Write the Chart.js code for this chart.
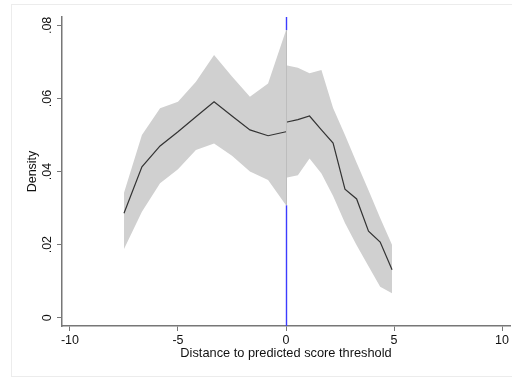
<!DOCTYPE html>
<html>
<head>
<meta charset="utf-8">
<script src="https://cdn.jsdelivr.net/npm/chart.js@4"></script>
<style>
  html, body { margin: 0; padding: 0; background: #fff; }
  #wrap { width: 512px; height: 377px; position: relative; }
</style>
</head>
<body>
<div id="wrap"><canvas id="c" width="512" height="377"></canvas></div>
<script>
// 閾値の左側
const leftX     = [-7.5, -6.67, -5.83, -5, -4.17, -3.33, -2.5, -1.67, -0.83, 0];
const leftMean  = [0.0286, 0.0413, 0.047, 0.0509, 0.055, 0.0591, 0.0552, 0.0514, 0.0498, 0.0509];
const leftUpper = [0.0342, 0.050, 0.0573, 0.0591, 0.0646, 0.0719, 0.066, 0.0605, 0.0641, 0.0787];
const leftLower = [0.0188, 0.029, 0.0368, 0.0406, 0.0459, 0.0477, 0.0443, 0.040, 0.0377, 0.0308];

// 閾値の右側
const rightX     = [0, 0.55, 1.09, 1.64, 2.18, 2.73, 3.27, 3.82, 4.36, 4.91];
const rightMean  = [0.0535, 0.0542, 0.0552, 0.0514, 0.0478, 0.0352, 0.0325, 0.0237, 0.0207, 0.0131];
const rightUpper = [0.0691, 0.0684, 0.0669, 0.0678, 0.0574, 0.050, 0.0424, 0.0349, 0.0273, 0.0199];
const rightLower = [0.0383, 0.039, 0.0436, 0.0395, 0.0333, 0.0259, 0.0198, 0.0141, 0.0085, 0.0067];

const threshold = 0;
const xTicks = [-10, -5, 0, 5, 10];
const yTicks = [0, 0.02, 0.04, 0.06, 0.08];
const xTitle = "Distance to predicted score threshold";
const yTitle = "Density";

const pts = (xs, ys) => xs.map((x, i) => ({ x, y: ys[i] }));
const FONT = "'Liberation Sans', Arial, sans-serif";
const BAND = "#d0d0d0";

function band(xs, ys, fill) {
  return { data: pts(xs, ys), borderWidth: 0, pointRadius: 0, tension: 0,
           backgroundColor: BAND, fill, order: 2 };
}
function meanLine(xs, ys) {
  return { data: pts(xs, ys), borderColor: "#333", borderWidth: 1.2, pointRadius: 0,
           tension: 0, fill: false, order: 0 };
}

const yLabel = v => v === 0 ? "0" : String(v).replace(/^0/, "");

// 外枠・閾値線・縦軸ラベル
const decor = {
  id: "decor",
  beforeDraw(chart) {
    const ctx = chart.ctx;
    ctx.save();
    ctx.strokeStyle = "#ececec";
    ctx.lineWidth = 1;
    ctx.strokeRect(11.5, 4.5, 520, 372);
    ctx.restore();
  },
  afterDatasetsDraw(chart) {
    // 閾値線は帯の外側だけ見える（帯の下に隠れる）
    const { ctx, scales: { x, y } } = chart;
    const px = Math.round(x.getPixelForValue(threshold)) + 0.5;
    const bandTop = y.getPixelForValue(Math.max(leftUpper[leftUpper.length - 1], rightUpper[0]));
    const bandBot = y.getPixelForValue(Math.min(leftLower[leftLower.length - 1], rightLower[0]));
    ctx.save();
    ctx.lineWidth = 1.4;
    ctx.strokeStyle = "#3c3cff";
    ctx.beginPath();
    ctx.moveTo(px, y.top);
    ctx.lineTo(px, bandTop);
    ctx.moveTo(px, bandBot);
    ctx.lineTo(px, y.bottom);
    ctx.stroke();
    // 帯の継ぎ目
    ctx.lineWidth = 1;
    ctx.strokeStyle = "#bdbdbd";
    ctx.beginPath();
    ctx.moveTo(px, bandTop);
    ctx.lineTo(px, bandBot);
    ctx.stroke();
    ctx.restore();
  },
  afterDraw(chart) {
    const { ctx, scales: { y } } = chart;
    ctx.save();
    ctx.fillStyle = "#111";
    ctx.font = "12.5px " + FONT;
    ctx.textAlign = "center";
    ctx.textBaseline = "middle";
    yTicks.forEach(v => {
      ctx.save();
      ctx.translate(48, y.getPixelForValue(v));
      ctx.rotate(-Math.PI / 2);
      ctx.fillText(yLabel(v), 0, 0);
      ctx.restore();
    });
    ctx.translate(33, (y.top + y.bottom) / 2);
    ctx.rotate(-Math.PI / 2);
    ctx.fillText(yTitle, 0, 0);
    ctx.restore();
  }
};

new Chart(document.getElementById("c"), {
  type: "line",
  data: {
    datasets: [
      meanLine(leftX, leftMean),
      meanLine(rightX, rightMean),
      band(leftX, leftUpper, "+1"),
      band(leftX, leftLower, false),
      band(rightX, rightUpper, "+1"),
      band(rightX, rightLower, false)
    ]
  },
  options: {
    responsive: false,
    animation: false,
    layout: { padding: { top: 17, right: 2, left: 0, bottom: 16 } },
    plugins: { legend: { display: false }, tooltip: { enabled: false } },
    scales: {
      x: {
        type: "linear", min: -10.37, max: 10.37,
        afterBuildTicks: s => { s.ticks = xTicks.map(v => ({ value: v })); },
        ticks: { color: "#111", font: { family: FONT, size: 12.5 }, padding: 2, maxRotation: 0 },
        grid: { drawOnChartArea: false, drawTicks: true, tickLength: 5, color: "#777", lineWidth: 1 },
        border: { display: true, color: "#777", width: 1.5 },
        title: { display: true, text: xTitle, color: "#111", font: { family: FONT, size: 12.8 }, padding: { top: 0, bottom: 0 } },
        afterFit: s => { s.height = 35; }
      },
      y: {
        type: "linear", min: -0.00227, max: 0.0823,
        afterBuildTicks: s => { s.ticks = yTicks.map(v => ({ value: v })); },
        ticks: { display: true, color: "rgba(0,0,0,0)", font: { family: FONT, size: 12 } },
        grid: { drawOnChartArea: false, drawTicks: true, tickLength: 5, color: "#777", lineWidth: 1 },
        border: { display: true, color: "#777", width: 1.5 },
        afterFit: s => { s.width = 62; }
      }
    }
  },
  plugins: [decor]
});
</script>
</body>
</html>
